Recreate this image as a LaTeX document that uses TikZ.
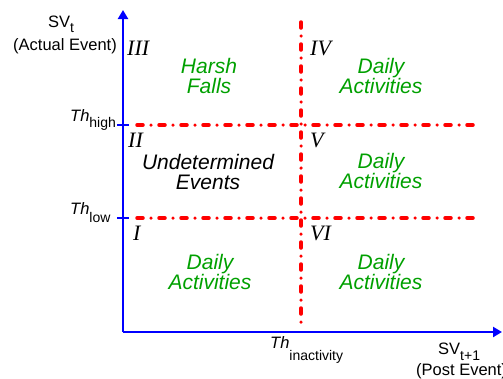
\documentclass[tikz,border=0pt]{standalone}
\usepackage{fontspec}
\setmainfont{Liberation Sans}
\newfontfamily\romfont{Liberation Serif}
\usepackage{xcolor}
\usetikzlibrary{arrows.meta}
\definecolor{actgreen}{RGB}{0,160,0}
\newcommand{\sublbl}[3]{#1\raisebox{-#3pt}{\fontsize{14}{14}\selectfont #2}}

\begin{document}
\begin{tikzpicture}[x=1pt,y=-1pt,
		axis/.style={blue, line width=2.5pt, -{Triangle[length=9pt,width=10pt]}},
		thres/.style={red, line width=3.5pt, line cap=round, dash pattern=on 6pt off 8pt on 0pt off 8pt},
		tickmark/.style={blue, line width=2pt},
		zone/.style={font=\romfont\itshape\fontsize{22}{22}\selectfont, anchor=base west, inner sep=0pt},
		act/.style={font=\itshape\fontsize{21}{20}\selectfont, align=center, text=actgreen, anchor=base, inner sep=0pt},
		lbl/.style={font=\fontsize{16.5}{16.5}\selectfont, anchor=base west, inner sep=0pt}]
		\useasboundingbox (0,0) rectangle (503,378);
		\coordinate (origin) at (123,332);
		\coordinate (ytop) at (123,10);
		\coordinate (xend) at (502,332);
		\coordinate (hi l) at (137,125);
		\coordinate (hi r) at (473,125);
		\coordinate (lo l) at (137,218);
		\coordinate (lo r) at (473,218);
		\coordinate (in t) at (301,22);
		\coordinate (in b) at (301,329);
		\coordinate (hi tick) at (117,125);
		\coordinate (lo tick) at (117,218);
		\draw[thres] (hi l) -- (hi r);
		\draw[thres] (lo l) -- (lo r);
		\draw[thres] (in t) -- (in b);
		\draw[axis] (origin) -- (ytop);
		\draw[axis] (origin) -- (xend);
		\draw[tickmark] (hi tick) -- ++(12,0);
		\draw[tickmark] (lo tick) -- ++(12,0);
		\node[lbl] (svt) at (48,27) {\sublbl{SV}{t}{5}};
		\node[lbl] (actual) at (13,50) {(Actual Event)};
		\node[lbl] (thhigh) at (70,121) {\sublbl{\textit{Th}}{high}{6.5}};
		\node[lbl] (thlow) at (70,214) {\sublbl{\textit{Th}}{low}{8.5}};
		\node[lbl] (thinact) at (270,348) {\sublbl{\textit{Th}}{inactivity}{12}};
		\node[lbl] (svt1) at (438,354) {\sublbl{SV}{t+1}{6.5}};
		\node[lbl] (post) at (416,375) {(Post Event)};
		\node[zone] (z3) at (127,55) {III};
		\node[zone] (z4) at (310,55) {IV};
		\node[zone] (z2) at (128,147) {II};
		\node[zone] (z5) at (310,147) {V};
		\node[zone] (z1) at (133,240) {I};
		\node[zone] (z6) at (310,240) {VI};
		\node[act] (harsh) at (209,93) {Harsh\\Falls};
		\node[act] (daily4) at (381,93) {Daily\\Activities};
		\node[act, text=black] (undet) at (208,189) {Undetermined\\Events};
		\node[act] (daily5) at (381,188) {Daily\\Activities};
		\node[act] (daily1) at (210,289) {Daily\\Activities};
		\node[act] (daily6) at (381,289) {Daily\\Activities};
	\end{tikzpicture}
\end{document}
